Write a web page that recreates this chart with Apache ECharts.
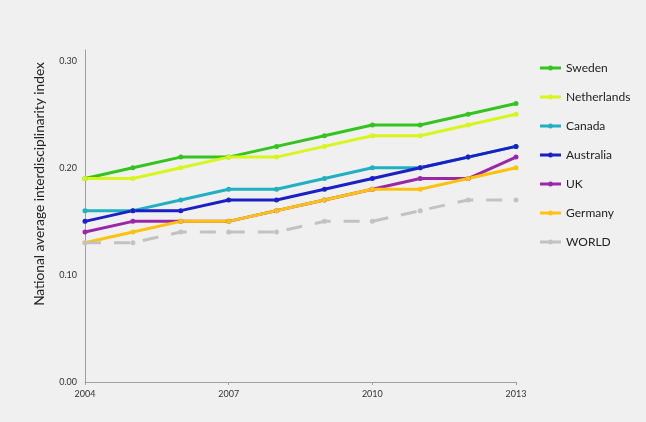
<!DOCTYPE html>
<html><head><meta charset="utf-8">
<script src="https://cdn.jsdelivr.net/npm/echarts@6/dist/echarts.min.js"></script>
<style>html,body{margin:0;padding:0;background:#f0f0f0;}#c{width:646px;height:422px;}</style>
</head><body><div id="c"></div>
<script>
const years = ['2004','2005','2006','2007','2008','2009','2010','2011','2012','2013'];
const sweden      = [0.19,0.20,0.21,0.21,0.22,0.23,0.24,0.24,0.25,0.26];
const netherlands = [0.19,0.19,0.20,0.21,0.21,0.22,0.23,0.23,0.24,0.25];
const canada      = [0.16,0.16,0.17,0.18,0.18,0.19,0.20,0.20,0.21,0.22];
const australia   = [0.15,0.16,0.16,0.17,0.17,0.18,0.19,0.20,0.21,0.22];
const uk          = [0.14,0.15,0.15,0.15,0.16,0.17,0.18,0.19,0.19,0.21];
const germany     = [0.13,0.14,0.15,0.15,0.16,0.17,0.18,0.18,0.19,0.20];
const world       = [0.13,0.13,0.14,0.14,0.14,0.15,0.15,0.16,0.17,0.17];
const yTicks = [0, 0.1, 0.2, 0.3];
const yTitle = 'National average interdisciplinarity index';

const FONT = 'Lato, "Open Sans", sans-serif';
const legendIcon = 'path://M0,3.5h21v3h-21z M8,5a2.5,2.5 0 1,1 5,0a2.5,2.5 0 1,1 -5,0z';
function mk(name, data, color, dashed) {
  return {
    name, type: 'line', data,
    symbol: 'circle', symbolSize: 5,
    itemStyle: { color },
    lineStyle: { color, width: 3, type: dashed ? [16, 13] : 'solid' },
    emphasis: { disabled: true },
    animation: false
  };
}
const chart = echarts.init(document.getElementById('c'));
chart.setOption({
  backgroundColor: '#f0f0f0',
  textStyle: { fontFamily: FONT },
  grid: { left: 85, right: 130, top: 50, bottom: 40 },
  xAxis: {
    type: 'category', data: years, boundaryGap: false,
    axisLine: { lineStyle: { color: '#a0a0a0', width: 1 } },
    axisTick: { show: true, interval: 2, length: 3, lineStyle: { color: '#a0a0a0' } },
    axisLabel: { interval: 2, color: '#333', fontSize: 9, margin: 8, fontFamily: FONT },
    splitLine: { show: false }
  },
  yAxis: {
    type: 'value', min: 0, max: 0.31, interval: 0.1,
    axisLine: { show: true, lineStyle: { color: '#a0a0a0', width: 1 } },
    axisTick: { show: false },
    splitLine: { show: false },
    axisLabel: {
      color: '#333', fontSize: 9, margin: 8, fontFamily: FONT, showMaxLabel: false,
      formatter: v => yTicks.some(t => Math.abs(t - v) < 1e-9) ? v.toFixed(2) : ''
    }
  },
  legend: {
    orient: 'vertical', left: 535, top: 57,
    itemWidth: 21, itemHeight: 10, itemGap: 17,
    icon: legendIcon,
    textStyle: { color: '#222', fontSize: 12, fontFamily: FONT },
    data: ['Sweden','Netherlands','Canada','Australia','UK','Germany','WORLD']
  },
  graphic: [{
    type: 'text', x: 40, y: 184, rotation: Math.PI / 2,
    style: { text: yTitle, fill: '#222', fontSize: 13.7, fontFamily: FONT, align: 'center', verticalAlign: 'middle' }
  }],
  series: [
    mk('Sweden', sweden, '#33c41e'),
    mk('Netherlands', netherlands, '#d8f51c'),
    mk('Canada', canada, '#1fb0c2'),
    mk('Australia', australia, '#1a1fc6'),
    mk('UK', uk, '#9a27a8'),
    mk('Germany', germany, '#ffc20e'),
    mk('WORLD', world, '#c2c2c2', true)
  ]
});
</script></body></html>
